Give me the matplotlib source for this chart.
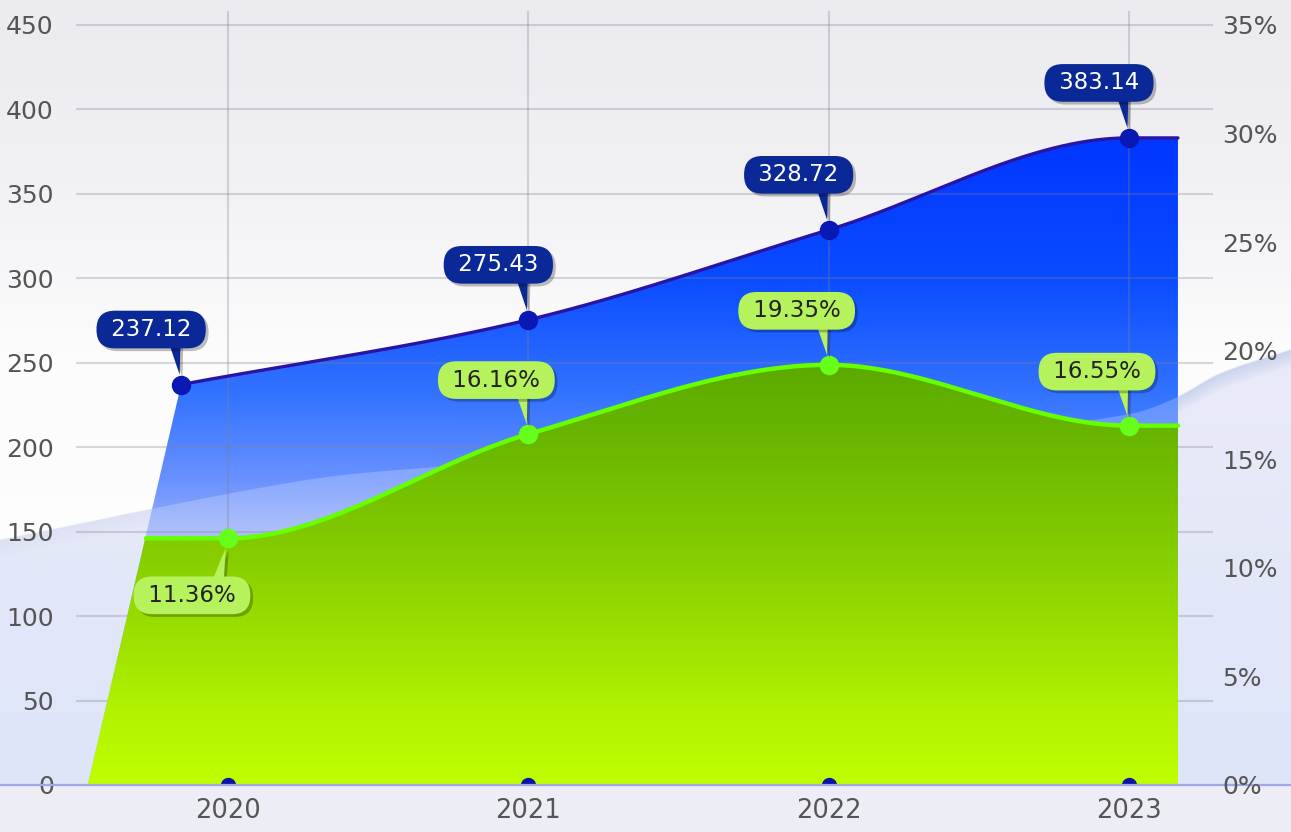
import numpy as np
import matplotlib
matplotlib.use("Agg")
import matplotlib.pyplot as plt
from matplotlib.colors import LinearSegmentedColormap
from matplotlib.patches import Polygon
from matplotlib.collections import LineCollection
import matplotlib.patheffects as pe

# ---------------- data ----------------
years = ["2020", "2021", "2022", "2023"]
revenue = [237.12, 275.43, 328.72, 383.14]          # left axis
growth = [11.36, 16.16, 19.35, 16.55]               # right axis, %
left_ticks = [0, 50, 100, 150, 200, 250, 300, 350, 400, 450]
right_ticks = [0, 5, 10, 15, 20, 25, 30, 35]
revenue_labels = ["237.12", "275.43", "328.72", "383.14"]
growth_labels = ["11.36%", "16.16%", "19.35%", "16.55%"]

# ---------------- layout / style ----------------
W, H = 1291, 832
LEFT_MAX = 450
RIGHT_MAX = 35
first_shift = -0.156      # first revenue point drawn left of its category
area_left = -0.467        # base of the area on the left
area_right = 3.163        # right end of the areas
TXT = "#555555"
plt.rcParams["font.family"] = ["DejaVu Sans"]


def hermite(xs, ys, xq, end_slopes=(None, None), flatten=True):
    xs = np.asarray(xs, float)
    ys = np.asarray(ys, float)
    n = len(xs)
    m = np.zeros(n)
    for i in range(1, n - 1):
        d1 = ys[i] - ys[i - 1]
        d2 = ys[i + 1] - ys[i]
        if flatten and d1 * d2 <= 0:
            m[i] = 0.0
        else:
            m[i] = (ys[i + 1] - ys[i - 1]) / (xs[i + 1] - xs[i - 1])
    m[0] = (ys[1] - ys[0]) / (xs[1] - xs[0]) if end_slopes[0] is None else end_slopes[0]
    m[-1] = (ys[-1] - ys[-2]) / (xs[-1] - xs[-2]) if end_slopes[1] is None else end_slopes[1]
    out = np.empty(len(xq))
    for j, x in enumerate(xq):
        if x <= xs[0]:
            out[j] = ys[0] + m[0] * (x - xs[0])
        elif x >= xs[-1]:
            out[j] = ys[-1] + m[-1] * (x - xs[-1])
        else:
            k = np.searchsorted(xs, x) - 1
            h = xs[k + 1] - xs[k]
            t = (x - xs[k]) / h
            h00 = 2 * t**3 - 3 * t**2 + 1
            h10 = t**3 - 2 * t**2 + t
            h01 = -2 * t**3 + 3 * t**2
            h11 = t**3 - t**2
            out[j] = h00 * ys[k] + h10 * h * m[k] + h01 * ys[k + 1] + h11 * h * m[k + 1]
    return out


fig = plt.figure(figsize=(W / 100, H / 100), dpi=100)

# ---------------- background ----------------
bg = fig.add_axes([0, 0, 1, 1], zorder=-5)
bg.set_xlim(0, W)
bg.set_ylim(H, 0)
bg.axis("off")

top_cmap = LinearSegmentedColormap.from_list(
    "top", [(0, "#ebebf0"), (0.22, "#f1f1f4"), (0.45, "#fcfcfd"), (1, "#ffffff")])
bg.imshow(np.linspace(0, 1, 256).reshape(-1, 1), extent=(0, W, 785, 0),
          cmap=top_cmap, aspect="auto", origin="upper", zorder=0)

wave_ctrl_x = [0, 300, 450, 700, 1000, 1130, 1178, 1220, 1291]
wave_ctrl_y = [540, 481, 466, 450, 430, 414, 397, 374, 350]
wx = np.linspace(0, W, 500)
wy = hermite(wave_ctrl_x, wave_ctrl_y, wx, flatten=False)

wave_poly = np.column_stack([np.r_[wx, W, 0], np.r_[wy, 785, 785]])
wave_patch = Polygon(wave_poly, closed=True, transform=bg.transData)
low_cmap = LinearSegmentedColormap.from_list("low", [(0, "#eaebf8"), (1, "#dde5f8")])
imw = bg.imshow(np.linspace(0, 1, 256).reshape(-1, 1), extent=(0, W, 785, 350),
                cmap=low_cmap, aspect="auto", origin="upper", zorder=1)
imw.set_clip_path(wave_patch)

# soft shadow under wave edge
nsh = 14
for k in range(nsh):
    pts = np.column_stack([wx, wy + k * 1.2]).reshape(-1, 1, 2)
    segs = np.concatenate([pts[:-1], pts[1:]], axis=1)
    strength = 0.10 + 0.35 * (wx[:-1] / W) ** 2.5
    a = strength * (1 - k / nsh) * 0.55
    cols = np.zeros((len(segs), 4))
    cols[:, 0], cols[:, 1], cols[:, 2] = 0.60, 0.68, 0.88
    cols[:, 3] = a
    bg.add_collection(LineCollection(segs, colors=cols, linewidths=1.4, zorder=2))

bg.add_patch(plt.Rectangle((0, 785), W, H - 785, color="#ededf5", zorder=3))

# ---------------- main axes ----------------
px_per_unit = 300.33
x0_px = 228
ax = fig.add_axes([76 / W, (H - 785) / H, (1213 - 76) / W, (785 - 11) / H])
ax.patch.set_visible(False)
ymax = LEFT_MAX + 14 / (760 / LEFT_MAX)
xlim = ((76 - x0_px) / px_per_unit, (1213 - x0_px) / px_per_unit)

cats = np.arange(len(years))
rev_x = cats.astype(float).copy()
rev_x[0] += first_shift
growth_left = np.array(growth) * LEFT_MAX / RIGHT_MAX

xs = np.linspace(area_left, area_right, 900)
blue_curve = hermite(rev_x, revenue, xs, end_slopes=(None, 0.0))
slant = revenue[0] * (xs - area_left) / (rev_x[0] - area_left)
blue_top = np.where(xs < rev_x[0], slant, blue_curve)
green_curve = hermite(cats, growth_left, xs, end_slopes=(0.0, 0.0))
green_top = np.minimum(green_curve, blue_top)

# blue area
blue_poly = np.column_stack([np.r_[xs, area_right, area_left], np.r_[blue_top, 0, 0]])
blue_patch = Polygon(blue_poly, closed=True, transform=ax.transData)
blue_cmap = LinearSegmentedColormap.from_list(
    "blue", [(0, "#a4bcf8"), (150 / 390, "#96aef8"), (180 / 390, "#6a92ff"),
             (230 / 390, "#3474ff"), (300 / 390, "#0a4cff"), (1, "#0034ff")])
imb = ax.imshow(np.linspace(0, 1, 256).reshape(-1, 1),
                extent=(area_left, area_right, 0, 390), origin="lower",
                aspect="auto", cmap=blue_cmap, zorder=2)
imb.set_clip_path(blue_patch)

# wave light overlay inside blue area
ov = ax.fill(wave_poly[:, 0], wave_poly[:, 1], color="white", alpha=0.22,
             transform=bg.transData, zorder=2.5, lw=0)[0]
ov.set_clip_path(blue_patch)

# grid
for t in left_ticks[1:]:
    ax.axhline(t, color="#80808f", alpha=0.3, lw=1.5, zorder=3)
for c in cats:
    ax.axvline(c, color="#80808f", alpha=0.3, lw=1.5, zorder=3)

# green area
green_poly = np.column_stack([np.r_[xs, area_right, area_left], np.r_[green_top, 0, 0]])
green_patch = Polygon(green_poly, closed=True, transform=ax.transData)
green_cmap = LinearSegmentedColormap.from_list(
    "green", [(0, "#c0ff00"), (50 / 255, "#aef000"), (100 / 255, "#96dc00"),
              (150 / 255, "#80c800"), (200 / 255, "#6ab800"), (1, "#5aa800")])
img = ax.imshow(np.linspace(0, 1, 256).reshape(-1, 1),
                extent=(area_left, area_right, 0, 255), origin="lower",
                aspect="auto", cmap=green_cmap, zorder=4)
img.set_clip_path(green_patch)

# lines
bmask = xs >= rev_x[0]
ax.plot(xs[bmask], blue_curve[bmask], color="#2a14a6", lw=2.4, zorder=5,
        solid_capstyle="round")
gline = np.where(green_curve <= blue_top + 1e-9, green_curve, np.nan)
ax.plot(xs, gline, color="#66ff00", lw=3.2, zorder=6, solid_capstyle="round")

ax.plot(rev_x, revenue, "o", ms=13, color="#0a18b4", zorder=7)
ax.plot(cats, growth_left, "o", ms=13, color="#66ff1a", zorder=7)
ax.plot(cats, np.zeros(len(cats)), "o", ms=10, color="#0a14a8", zorder=7, clip_on=True)

# baseline across figure
ax.plot([0, W], [785, 785], color="#a0a6e6", lw=1.6, transform=bg.transData,
        clip_on=False, zorder=8)

ax.set_xlim(*xlim)
ax.set_ylim(0, ymax)
ax.set_yticks(left_ticks)
ax.set_xticks(cats)
ax.set_xticklabels(years)
ax.tick_params(axis="y", length=0, pad=16, labelsize=18, labelcolor=TXT)
ax.tick_params(axis="x", length=0, pad=9, labelsize=18.5, labelcolor=TXT)
for s in ax.spines.values():
    s.set_visible(False)

ax2 = ax.twinx()
ax2.set_ylim(0, ymax * RIGHT_MAX / LEFT_MAX)
ax2.set_yticks(right_ticks)
ax2.set_yticklabels([f"{t}%" for t in right_ticks])
ax2.tick_params(axis="y", length=0, pad=6.5, labelsize=18, labelcolor=TXT)
for s in ax2.spines.values():
    s.set_visible(False)
ax2.patch.set_visible(False)

# ---------------- callouts ----------------
shadow = [pe.withSimplePatchShadow(offset=(2, -2), shadow_rgbFace="black", alpha=0.25)]


def callout(x, y, text, off, fc, tc, below=False):
    ann = ax.annotate(
        " " + text + " ", xy=(x, y), xytext=off, textcoords="offset pixels",
        ha="center", va="center", fontsize=16.5, color=tc, zorder=12,
        bbox=dict(boxstyle="round,pad=0.32,rounding_size=0.8", fc=fc, ec="none"),
        arrowprops=dict(arrowstyle="wedge,tail_width=0.6,shrink_factor=0.5",
                        fc=fc, ec="none", relpos=(0.74, 0.8 if below else 0.2),
                        patchA=None, shrinkA=0, shrinkB=7),
    )
    ann.get_bbox_patch().set_path_effects(shadow)
    ann.arrow_patch.set_path_effects(shadow)
    return ann


for i in range(len(years)):
    callout(rev_x[i], revenue[i], revenue_labels[i], (-30, 55), "#0a2896", "white")

for i in range(len(years)):
    below = i == 0
    callout(cats[i], growth_left[i], growth_labels[i],
            (-36, -57) if below else (-32, 54), "#b6f25c", "#222222", below=below)

fig.savefig("out.png", dpi=100)
